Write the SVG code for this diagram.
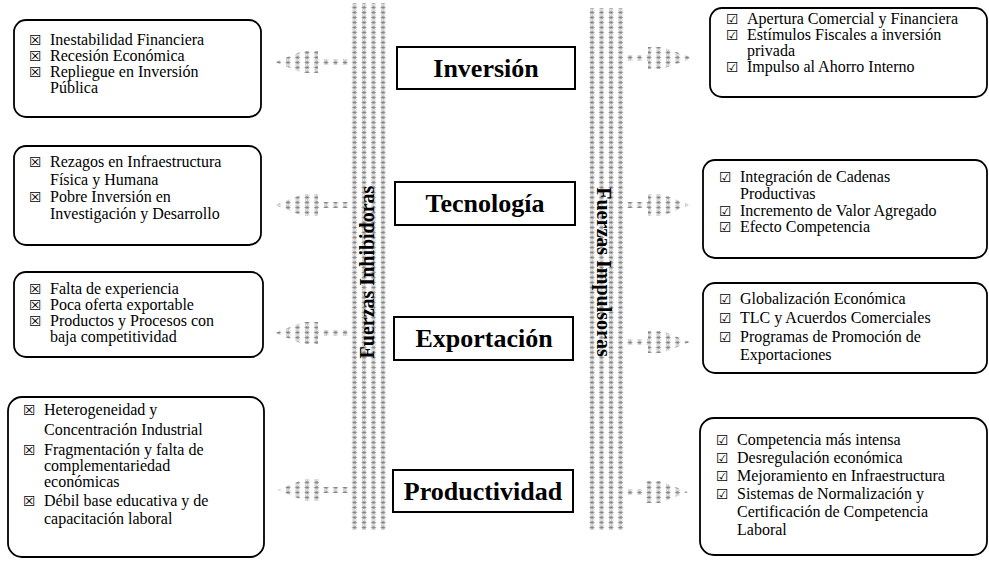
<svg xmlns="http://www.w3.org/2000/svg" width="989" height="563" viewBox="0 0 989 563">
  <defs>
    <!-- stipple used for the two force bands and the arrows -->
    <pattern id="stipple" width="9.5" height="5" patternUnits="userSpaceOnUse">
      <path d="M1,0.6 L5,4.4 M5,0.6 L1,4.4 M3,0.2 L3,4.8 M0.6,2.5 L5.4,2.5" stroke="#7a7a7a" stroke-width="0.75" fill="none"/>
    </pattern>
  </defs>
  <style>
    .card { fill: #ffffff; stroke: #000000; stroke-width: 1.8; }
    .topic { fill: #ffffff; stroke: #000000; stroke-width: 2; }
    .item { font-family: "Liberation Serif", "Times New Roman", serif; font-size: 16px; fill: #000000; }
    .mark { font-family: "DejaVu Sans", sans-serif; font-size: 14px; fill: #000000; }
    .title { font-family: "Liberation Serif", "Times New Roman", serif; font-size: 26px; font-weight: bold; fill: #000000; text-anchor: middle; }
    .band-label { font-family: "Liberation Serif", "Times New Roman", serif; font-size: 20px; font-weight: bold; fill: #000000; text-anchor: middle; }
    .dots { fill: url(#stipple); }
  </style>

  <rect x="0" y="0" width="989" height="563" fill="#ffffff"/>

  <!-- force bands and arrows -->
  <g id="connectors">
    <rect class="dots" x="349" y="3" width="39" height="527"/>
    <rect class="dots" x="586" y="8" width="39" height="522"/>
    <!-- inhibiting arrows (pointing left) -->
    <polygon class="dots" points="275,62 303,51 318,51 318,59 349,59 349,65 318,65 318,73 303,73"/>
    <polygon class="dots" points="275,205 303,194 318,194 318,202 349,202 349,208 318,208 318,216 303,216"/>
    <polygon class="dots" points="275,333 303,322 318,322 318,330 349,330 349,336 318,336 318,344 303,344"/>
    <polygon class="dots" points="277,490 305,479 320,479 320,487 349,487 349,493 320,493 320,501 305,501"/>
    <!-- driving arrows (pointing right) -->
    <polygon class="dots" points="625,55 648,55 648,47 662,47 693,58 662,69 648,69 648,61 625,61"/>
    <polygon class="dots" points="625,202 648,202 648,194 662,194 690,205 662,216 648,216 648,208 625,208"/>
    <polygon class="dots" points="625,339 648,339 648,331 662,331 690,342 662,353 648,353 648,345 625,345"/>
    <polygon class="dots" points="625,489 645,489 645,481 660,481 688,492 660,503 645,503 645,495 625,495"/>
  </g>

  <g id="label-inhibidoras">
    <text class="band-label" transform="translate(374,272) rotate(-90)">Fuerzas Inhibidoras</text>
  </g>
  <g id="label-impulsoras">
    <text class="band-label" transform="translate(597,272) rotate(90)">Fuerzas Impulsoras</text>
  </g>

  <!-- central topics -->
  <g id="topic-inversion">
    <rect class="topic" x="397" y="47" width="178" height="42"/>
    <text class="title" x="486" y="77">Inversión</text>
  </g>
  <g id="topic-tecnologia">
    <rect class="topic" x="395" y="182" width="180" height="43"/>
    <text class="title" x="485" y="212">Tecnología</text>
  </g>
  <g id="topic-exportacion">
    <rect class="topic" x="394" y="317" width="179" height="43"/>
    <text class="title" x="484" y="347">Exportación</text>
  </g>
  <g id="topic-productividad">
    <rect class="topic" x="393" y="470" width="180" height="42"/>
    <text class="title" x="483" y="500">Productividad</text>
  </g>

  <!-- inhibiting factors -->
  <g id="inhibit-inversion">
    <rect class="card" x="14" y="20" width="247" height="97" rx="12"/>
    <text class="mark" x="29" y="45">☒</text><text class="item" x="50" y="45">Inestabilidad Financiera</text>
    <text class="mark" x="29" y="61">☒</text><text class="item" x="50" y="61">Recesión Económica</text>
    <text class="mark" x="29" y="77">☒</text><text class="item" x="50" y="77">Repliegue en Inversión</text>
    <text class="item" x="50" y="93">Pública</text>
  </g>
  <g id="inhibit-tecnologia">
    <rect class="card" x="14" y="146" width="247" height="99" rx="12"/>
    <text class="mark" x="29" y="167">☒</text><text class="item" x="50" y="167">Rezagos en Infraestructura</text>
    <text class="item" x="50" y="185">Física y Humana</text>
    <text class="mark" x="29" y="202">☒</text><text class="item" x="50" y="202">Pobre Inversión en</text>
    <text class="item" x="50" y="219">Investigación y Desarrollo</text>
  </g>
  <g id="inhibit-exportacion">
    <rect class="card" x="14" y="272" width="249" height="85" rx="12"/>
    <text class="mark" x="29" y="294">☒</text><text class="item" x="50" y="294">Falta de experiencia</text>
    <text class="mark" x="29" y="310">☒</text><text class="item" x="50" y="310">Poca oferta exportable</text>
    <text class="mark" x="29" y="326">☒</text><text class="item" x="50" y="326">Productos y Procesos con</text>
    <text class="item" x="50" y="342">baja competitividad</text>
  </g>
  <g id="inhibit-productividad">
    <rect class="card" x="8" y="397" width="256" height="160" rx="14"/>
    <text class="mark" x="23" y="415">☒</text><text class="item" x="44" y="415">Heterogeneidad y</text>
    <text class="item" x="44" y="435">Concentración Industrial</text>
    <text class="mark" x="23" y="455">☒</text><text class="item" x="44" y="455">Fragmentación y falta de</text>
    <text class="item" x="44" y="471">complementariedad</text>
    <text class="item" x="44" y="487">económicas</text>
    <text class="mark" x="23" y="506">☒</text><text class="item" x="44" y="506">Débil base educativa y de</text>
    <text class="item" x="44" y="524">capacitación laboral</text>
  </g>

  <!-- driving factors -->
  <g id="drive-inversion">
    <rect class="card" x="710" y="8" width="277" height="89" rx="12"/>
    <text class="mark" x="726" y="24">☑</text><text class="item" x="747" y="24">Apertura Comercial y Financiera</text>
    <text class="mark" x="726" y="40">☑</text><text class="item" x="747" y="40">Estímulos Fiscales a inversión</text>
    <text class="item" x="747" y="56">privada</text>
    <text class="mark" x="726" y="72">☑</text><text class="item" x="747" y="72">Impulso al Ahorro Interno</text>
  </g>
  <g id="drive-tecnologia">
    <rect class="card" x="703" y="160" width="284" height="98" rx="12"/>
    <text class="mark" x="719" y="182">☑</text><text class="item" x="740" y="182">Integración de Cadenas</text>
    <text class="item" x="740" y="199">Productivas</text>
    <text class="mark" x="719" y="216">☑</text><text class="item" x="740" y="216">Incremento de Valor Agregado</text>
    <text class="mark" x="719" y="232">☑</text><text class="item" x="740" y="232">Efecto Competencia</text>
  </g>
  <g id="drive-exportacion">
    <rect class="card" x="703" y="283" width="284" height="90" rx="12"/>
    <text class="mark" x="719" y="304">☑</text><text class="item" x="740" y="304">Globalización Económica</text>
    <text class="mark" x="719" y="323">☑</text><text class="item" x="740" y="323">TLC y Acuerdos Comerciales</text>
    <text class="mark" x="719" y="342">☑</text><text class="item" x="740" y="342">Programas de Promoción de</text>
    <text class="item" x="740" y="360">Exportaciones</text>
  </g>
  <g id="drive-productividad">
    <rect class="card" x="700" y="418" width="287" height="137" rx="14"/>
    <text class="mark" x="716" y="445">☑</text><text class="item" x="737" y="445">Competencia más intensa</text>
    <text class="mark" x="716" y="463">☑</text><text class="item" x="737" y="463">Desregulación económica</text>
    <text class="mark" x="716" y="481">☑</text><text class="item" x="737" y="481">Mejoramiento en Infraestructura</text>
    <text class="mark" x="716" y="499">☑</text><text class="item" x="737" y="499">Sistemas de Normalización y</text>
    <text class="item" x="737" y="517">Certificación de Competencia</text>
    <text class="item" x="737" y="535">Laboral</text>
  </g>
</svg>
